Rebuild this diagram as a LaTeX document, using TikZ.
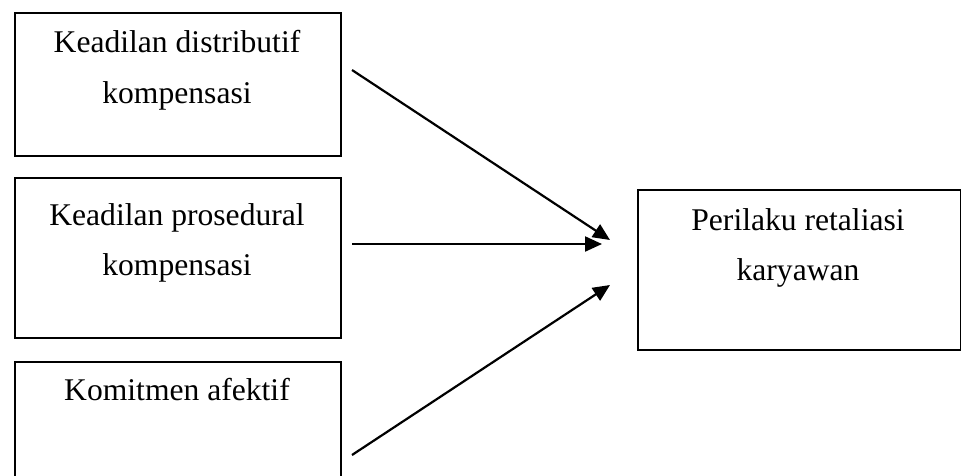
\documentclass[tikz,border=0pt]{standalone}
\usepackage{fontspec}
\setmainfont{Liberation Serif}
\usetikzlibrary{arrows.meta}
\begin{document}
\begin{tikzpicture}[x=1pt,y=-1pt,
  box/.style={draw,line width=1.6pt,rectangle,anchor=north west,inner sep=0pt},
  lbl/.style={anchor=base,inner sep=0pt,font=\fontsize{31.6}{31.6}\selectfont},
  conn/.style={line width=2.2pt,-{Triangle[length=17pt,width=15pt]}}]
\useasboundingbox (0,0) rectangle (961,475);
\clip (0,0) rectangle (961,475);
\node[box,minimum width=326pt,minimum height=143pt] (b1) at (14,12) {};
\node[box,minimum width=326pt,minimum height=160pt] (b2) at (14,177) {};
\node[box,minimum width=326pt,minimum height=130pt] (b3) at (14,361) {};
\node[box,minimum width=323pt,minimum height=160pt] (r) at (637,189) {};
\node[lbl] (t1a) at (177,52) {Keadilan distributif};
\node[lbl] (t1b) at (177,103) {kompensasi};
\node[lbl] (t2a) at (177,225) {Keadilan prosedural};
\node[lbl] (t2b) at (177,275) {kompensasi};
\node[lbl] (t3a) at (177,400) {Komitmen afektif};
\node[lbl] (ra) at (798,230) {Perilaku retaliasi};
\node[lbl] (rb) at (798,280) {karyawan};
\coordinate (s1) at (352,70);
\coordinate (s2) at (352,244);
\coordinate (s3) at (352,455);
\coordinate (e1) at (610,240);
\coordinate (e2) at (602,244);
\coordinate (e3) at (610,285);
\draw[conn] (s1) -- (e1);
\draw[conn] (s2) -- (e2);
\draw[conn] (s3) -- (e3);
\end{tikzpicture}
\end{document}
